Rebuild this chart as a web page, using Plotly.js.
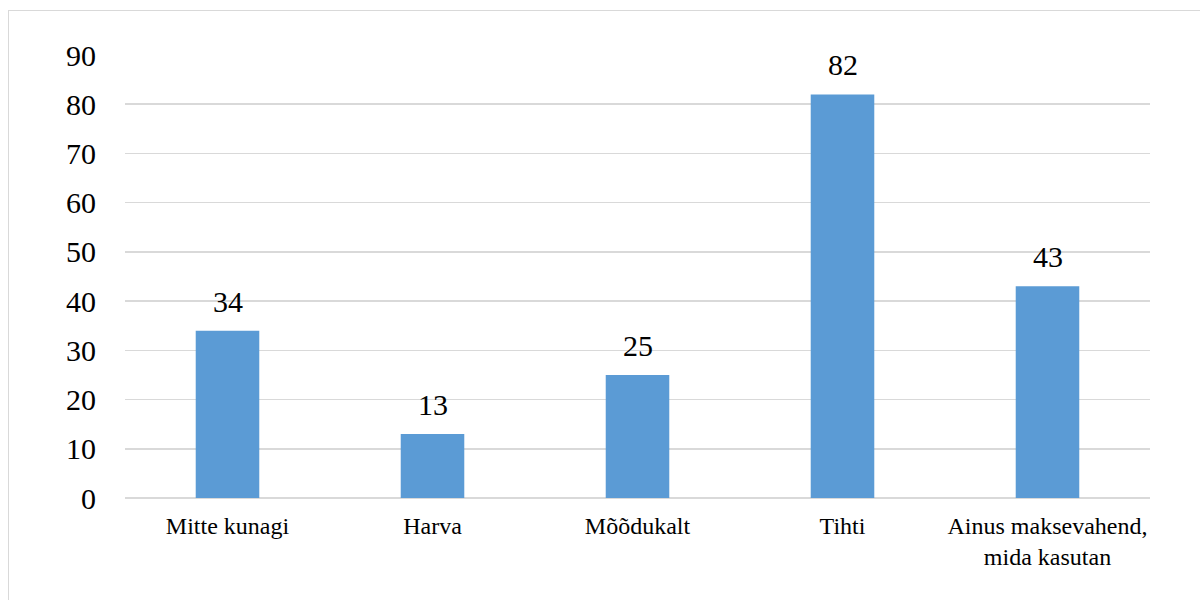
<!DOCTYPE html>
<html>
<head>
<meta charset="utf-8">
<script src="https://cdn.plot.ly/plotly-3.0.1.min.js"></script>
<style>
html,body{margin:0;padding:0;background:#fff;}
#chart{width:1200px;height:600px;}
#frame{position:absolute;left:8px;top:10px;width:1200px;height:600px;border:1.5px solid #d9d9d9;pointer-events:none;}
</style>
</head>
<body>
<div id="chart"></div>
<div id="frame"></div>
<script>
const categories = ["Mitte kunagi", "Harva", "Mõõdukalt", "Tihti", "Ainus maksevahend,<br>mida kasutan"];
const values = [34, 13, 25, 82, 43];
const yTicks = [0, 10, 20, 30, 40, 50, 60, 70, 80, 90];

const font = "Liberation Serif, Times New Roman, serif";

const trace = {
  type: "bar",
  x: categories,
  y: values,
  marker: {color: "#5B9BD5"},
  hoverinfo: "none"
};

const annotations = categories.map((c, i) => ({
  x: c, y: values[i], text: String(values[i]),
  xref: "x", yref: "y", yanchor: "bottom", showarrow: false,
  yshift: 11,
  font: {family: font, size: 30, color: "#000"}
}));

const layout = {
  width: 1200, height: 600,
  margin: {l: 125, r: 50, t: 55, b: 102},
  paper_bgcolor: "#fff", plot_bgcolor: "#fff",
  bargap: 0.69,
  showlegend: false,
  font: {family: font, color: "#000"},
  xaxis: {
    type: "category",
    showgrid: false,
    showline: false,
    ticks: "outside", ticklen: 6, tickcolor: "rgba(0,0,0,0)",
    tickfont: {family: font, size: 24, color: "#000"},
    fixedrange: true
  },
  yaxis: {
    range: [0, 90],
    tickvals: yTicks,
    ticktext: yTicks.map(String),
    showgrid: true, gridcolor: "#d9d9d9", gridwidth: 1.5,
    zeroline: true, zerolinecolor: "#d9d9d9", zerolinewidth: 1.5,
    showline: false,
    ticks: "outside", ticklen: 22, tickcolor: "rgba(0,0,0,0)",
    tickfont: {family: font, size: 30, color: "#000"},
    fixedrange: true
  },
  annotations: annotations
};

Plotly.newPlot("chart", [trace], layout, {displayModeBar: false, staticPlot: true});
</script>
</body>
</html>
